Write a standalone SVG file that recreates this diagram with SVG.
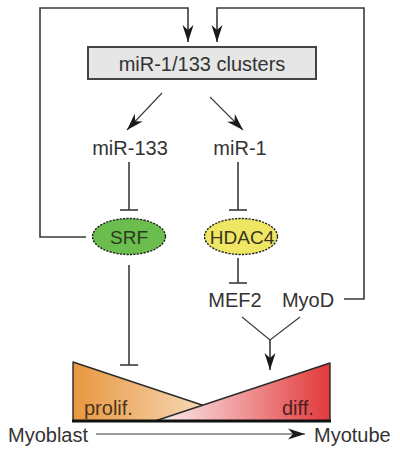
<svg xmlns="http://www.w3.org/2000/svg" width="400" height="456" viewBox="0 0 400 456">
<defs>
<style>
.t{font-family:"Liberation Sans",Arial,sans-serif;font-size:20px;fill:#333}
.ln{stroke:#3a3a3a;stroke-width:1.6;fill:none}
.tn{stroke:#3a3a3a;stroke-width:1.1;fill:none}
.node{stroke:#222;stroke-width:1.4;stroke-dasharray:2.2 1.2}
</style>
<marker id="ah" markerUnits="userSpaceOnUse" markerWidth="20" markerHeight="14" refX="17" refY="7" orient="auto">
<path d="M0,1.5 L17,7 L0,12.5 L5,7 Z" fill="#1a1a1a"/>
</marker>
<linearGradient id="gp" x1="73" y1="0" x2="250" y2="0" gradientUnits="userSpaceOnUse">
<stop offset="0" stop-color="#e8973f"/>
<stop offset="1" stop-color="#fcefe2"/>
</linearGradient>
<linearGradient id="gd" x1="155" y1="0" x2="330" y2="0" gradientUnits="userSpaceOnUse">
<stop offset="0" stop-color="#fdf3f4"/>
<stop offset="1" stop-color="#e2393a"/>
</linearGradient>
</defs>

<g id="connectors">
<polyline class="ln" points="86,237 40,237 40,8 188,8 188,42" marker-end="url(#ah)"/>
<polyline class="ln" points="344,299 364,299 364,8 217,8 217,42" marker-end="url(#ah)"/>
<line class="tn" x1="162" y1="93" x2="127" y2="130" marker-end="url(#ah)"/>
<line class="tn" x1="210" y1="97" x2="243" y2="130" marker-end="url(#ah)"/>
<line class="ln" x1="129" y1="162" x2="129" y2="210"/>
<line class="ln" x1="120" y1="210" x2="138" y2="210"/>
<line class="ln" x1="238" y1="162" x2="238" y2="210"/>
<line class="ln" x1="229" y1="210" x2="247" y2="210"/>
<line class="ln" x1="129" y1="265" x2="129" y2="365"/>
<line class="ln" x1="120" y1="365" x2="138" y2="365"/>
<line class="ln" x1="238" y1="258" x2="238" y2="283"/>
<line class="ln" x1="229" y1="283" x2="247" y2="283"/>
<polyline class="tn" points="242,317 270,340 300,317"/>
<line class="ln" x1="270" y1="340" x2="270" y2="370" marker-end="url(#ah)"/>
<line class="tn" x1="96" y1="434" x2="305" y2="434" marker-end="url(#ah)"/>
</g>

<g id="clusters">
<rect x="88" y="47" width="228" height="32" fill="#e6e6e6" stroke="#444" stroke-width="2"/>
<text class="t" x="202" y="71" text-anchor="middle">miR-1/133 clusters</text>
</g>
<g id="miR-133"><text class="t" x="130" y="155" text-anchor="middle">miR-133</text></g>
<g id="miR-1"><text class="t" x="240" y="155" text-anchor="middle">miR-1</text></g>
<g id="SRF">
<ellipse class="node" cx="129" cy="236.5" rx="36.5" ry="18" fill="#6bbd4e"/>
<text class="t" x="129" y="243.5" text-anchor="middle" style="font-size:19px;fill:#2a3a20">SRF</text>
</g>
<g id="HDAC4">
<ellipse class="node" cx="241" cy="236.5" rx="36.5" ry="18" fill="#efe663"/>
<text class="t" x="242" y="243.5" text-anchor="middle" style="font-size:19px;fill:#3a3520">HDAC4</text>
</g>
<g id="MEF2"><text class="t" x="235" y="307" text-anchor="middle">MEF2</text></g>
<g id="MyoD"><text class="t" x="308" y="307" text-anchor="middle">MyoD</text></g>

<g id="balance">
<polygon points="73,362 73,421 250,421" fill="url(#gp)" stroke="#2a2a2a" stroke-width="1.4" stroke-linejoin="round"/>
<polygon points="155,421 330,363 330,421" fill="url(#gd)" stroke="#2a2a2a" stroke-width="1.4" stroke-linejoin="round"/>
<line x1="72" y1="421" x2="331" y2="421" stroke="#111" stroke-width="3"/>
<text class="t" x="84" y="415" style="fill:#4a3520">prolif.</text>
<text class="t" x="282" y="415" style="fill:#4a2020">diff.</text>
</g>
<g id="Myoblast"><text class="t" x="8" y="442">Myoblast</text></g>
<g id="Myotube"><text class="t" x="314" y="442">Myotube</text></g>
</svg>
